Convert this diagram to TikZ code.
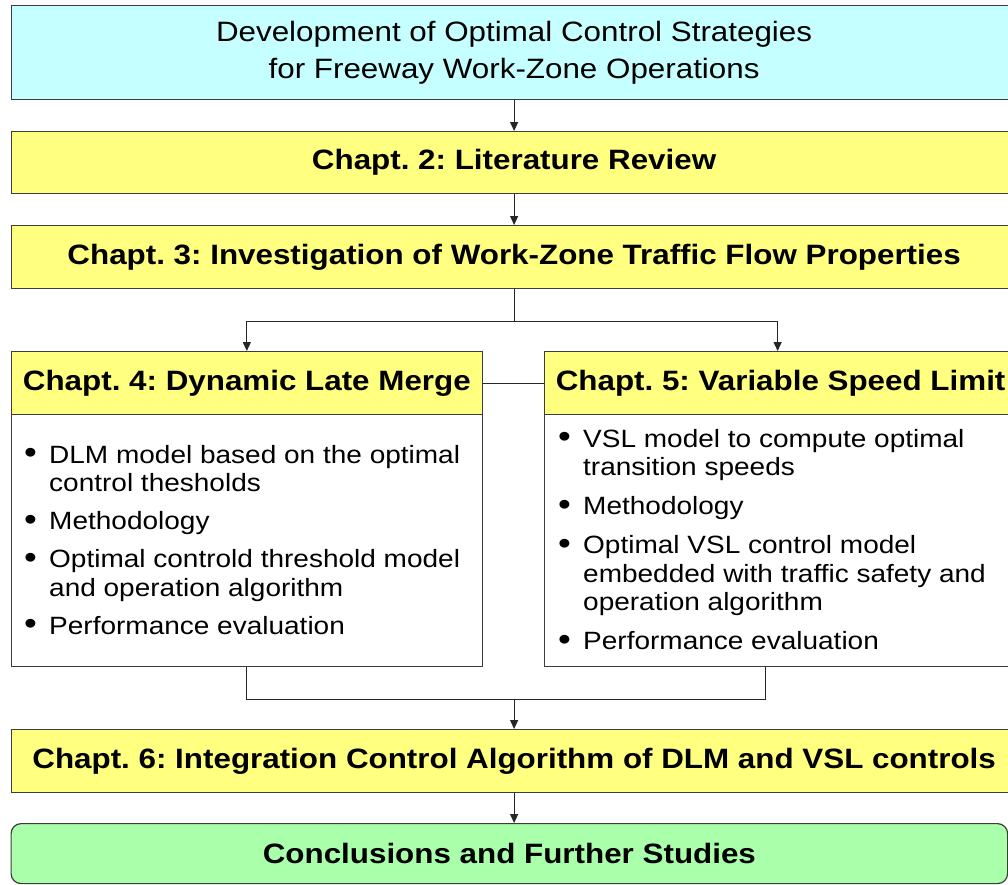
\documentclass[tikz,border=0pt]{standalone}
\usepackage{fontspec}
\setmainfont[FakeStretch=1.12]{Liberation Sans}
\usetikzlibrary{arrows.meta,calc}
\definecolor{titlecyan}{RGB}{198,255,255}
\definecolor{hdryellow}{RGB}{255,255,128}
\definecolor{endgreen}{RGB}{170,255,170}
\definecolor{edge}{RGB}{60,60,60}
\newcommand\bul{\makebox[25pt][l]{\raisebox{-0.5pt}{\scalebox{1.3}{\textbullet}}}}
\newcommand\cont{\hspace*{25pt}}
\tikzset{
  frame/.style={draw=edge, line width=1.2pt, inner sep=0pt, anchor=north west, align=center},
  conn/.style={draw=black!85, line width=1.2pt},
  arr/.style={conn, -{Triangle[length=9pt,width=8pt]}},
  hdr/.style={frame, fill=hdryellow, font=\bfseries\fontsize{28}{32}\selectfont},
  bodybox/.style={frame, fill=white},
  listtext/.style={inner sep=0pt, anchor=north west, align=left, font=\fontsize{25}{28.5}\selectfont},
}
\begin{document}
\frenchspacing
\begin{tikzpicture}[x=1pt,y=-1pt]
\useasboundingbox (0,0) rectangle (1008,884);
\clip (0,0) rectangle (1008,884);
\fill[white] (0,0) rectangle (1008,884);

\node[frame, fill=titlecyan, minimum width=1006pt, minimum height=94pt,
      font=\fontsize{28}{37}\selectfont] (title) at (10.5,5)
  {Development of Optimal Control Strategies\\for Freeway Work-Zone Operations};
\node[hdr, minimum width=1006pt, minimum height=62pt] (ch2) at (10.5,131)
  {Chapt. 2: Literature Review};
\node[hdr, minimum width=1006pt, minimum height=63pt] (ch3) at (10.5,225)
  {Chapt. 3: Investigation of Work-Zone Traffic Flow Properties};

\node[bodybox, minimum width=471.5pt, minimum height=252pt] (ch4b) at (10.5,414) {};
\node[hdr, minimum width=471.5pt, minimum height=63pt] (ch4h) at (10.5,351)
  {Chapt. 4: Dynamic Late Merge};
\node[bodybox, minimum width=472pt, minimum height=252pt] (ch5b) at (544,414) {};
\node[hdr, minimum width=472pt, minimum height=63pt] (ch5h) at (544,351)
  {Chapt. 5: Variable Speed Limit};

\node[listtext] (list4) at (24,443)
  {\rule{0pt}{20pt}\bul DLM model based on the optimal\\
   \cont control thesholds\\[9.5pt]
   \bul Methodology\\[9.5pt]
   \bul Optimal controld threshold model\\
   \cont and operation algorithm\\[9.5pt]
   \bul Performance evaluation};
\node[listtext] (list5) at (558,427)
  {\rule{0pt}{20pt}\bul VSL model to compute optimal\\
   \cont transition speeds\\[10.5pt]
   \bul Methodology\\[10.5pt]
   \bul Optimal VSL control model\\
   \cont embedded with traffic safety and\\
   \cont operation algorithm\\[10.5pt]
   \bul Performance evaluation};

\node[hdr, minimum width=1006pt, minimum height=63pt] (ch6) at (10.5,729)
  {Chapt. 6: Integration Control Algorithm of DLM and VSL controls};
\node[frame, fill=endgreen, rounded corners=10pt, minimum width=996.5pt, minimum height=60pt,
      font=\bfseries\fontsize{28}{32}\selectfont] (concl) at (10.5,823)
  {Conclusions and Further Studies};

% connectors
\draw[arr] (title.south) -- (ch2.north);
\draw[arr] (ch2.south) -- (ch3.north);
\draw[conn] (ch3.south) -- ++(0,32) coordinate (split);
\draw[arr] (split) -| (ch4h.north);
\draw[arr] ([xshift=-0.5pt]split) -| ([xshift=-3pt]ch5h.north);
\draw[conn] (ch4h.east) -- (ch5h.west);
\draw[conn] (ch4b.south) -- ++(0,32) coordinate (mergeL) -| ([xshift=-15pt]ch5b.south);
\draw[arr] (ch6.north |- mergeL) -- (ch6.north);
\draw[arr] (ch6.south) -- (ch6.south |- concl.north);
\end{tikzpicture}
\end{document}
